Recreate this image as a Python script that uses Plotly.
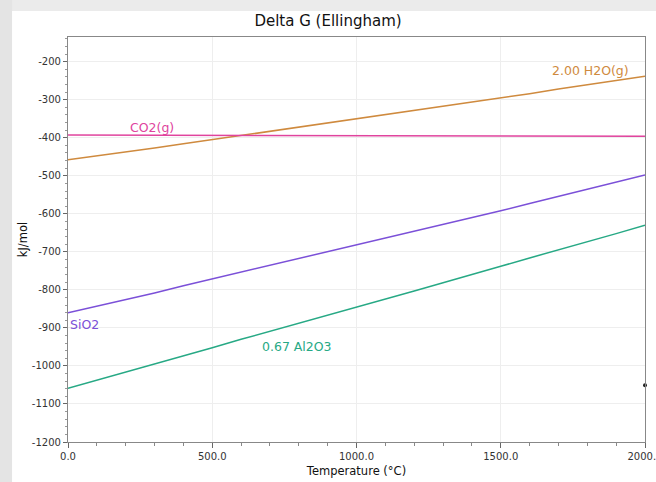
import plotly.graph_objects as go

# Temperature grid (°C)
temperature = [0, 100, 200, 300, 400, 500, 600, 700, 800, 900, 1000,
               1100, 1200, 1300, 1400, 1500, 1600, 1700, 1800, 1900, 2000]

# Standard Gibbs energy of formation per mol O2 (kJ/mol)
dg_h2o = [-458, -448, -437, -427, -416, -405, -394.5, -384, -373, -362, -351,
          -340, -329, -317, -306, -295, -284, -272, -261, -250, -238]
dg_co2 = [-393, -393.2, -393.4, -393.6, -393.8, -394, -394.2, -394.4, -394.6, -394.8, -395,
          -395.1, -395.2, -395.3, -395.4, -395.5, -395.6, -395.7, -395.8, -395.9, -396]
dg_sio2 = [-860, -843, -826, -808, -789, -771, -753, -735, -717, -700, -682,
           -664, -646, -629, -611, -592, -573, -554, -535, -517, -498]
dg_al2o3 = [-1059, -1038, -1017, -995, -973, -952, -930, -909, -888, -867, -845,
            -824, -803, -781, -760, -738, -716, -695, -673, -652, -630]

# Cursor point on the right edge
cursor_t = [2000]
cursor_g = [-1051]

# Axis ticks
x_ticks = [0, 500, 1000, 1500, 2000]
x_tick_labels = ["0.0", "500.0", "1000.0", "1500.0", "2000.0"]
y_ticks = [-1200, -1100, -1000, -900, -800, -700, -600, -500, -400, -300, -200]
y_tick_labels = ["-1200", "-1100", "-1000", "-900", "-800", "-700",
                 "-600", "-500", "-400", "-300", "-200"]

series = [
    ("2.00 H2O(g)", dg_h2o, "#cf8a3e", 1810, -222, "center"),
    ("CO2(g)", dg_co2, "#e0449e", 291, -372, "center"),
    ("SiO2", dg_sio2, "#7b50d8", 0, -891, "left"),
    ("0.67 Al2O3", dg_al2o3, "#27a985", 793, -948, "center"),
]

fig = go.Figure()
for name, vals, color, lx, ly, anchor in series:
    fig.add_trace(go.Scatter(x=temperature, y=vals, mode="lines", name=name,
                             line=dict(color=color, width=1.5), showlegend=False))
    fig.add_annotation(x=lx, y=ly, text=name, showarrow=False, xanchor=anchor,
                       font=dict(family="DejaVu Sans", size=12.5, color=color))

fig.add_trace(go.Scatter(x=cursor_t, y=cursor_g, mode="markers",
                         marker=dict(color="#222222", size=4), cliponaxis=False,
                         showlegend=False))

# Window frame strips (top and left)
fig.add_shape(type="rect", xref="paper", yref="paper", layer="below",
              x0=-0.2, x1=1.1, y0=1.064, y1=1.2, fillcolor="#ebebeb", line_width=0)
fig.add_shape(type="rect", xref="paper", yref="paper", layer="below",
              x0=-0.2, x1=-56 / 577.5, y0=-0.2, y1=1.2, fillcolor="#e4e4e4", line_width=0)

fig.update_layout(
    width=656, height=482,
    margin=dict(l=68, r=10.5, t=37, b=40),
    paper_bgcolor="white", plot_bgcolor="white",
    title=dict(text="Delta G (Ellingham)", x=0.5, xanchor="center", y=0.957, yanchor="middle",
               font=dict(family="DejaVu Sans", size=15, color="#111111")),
    font=dict(family="DejaVu Sans", color="#222222"),
)

fig.update_xaxes(
    range=[0, 2000], tickvals=x_ticks, ticktext=x_tick_labels,
    ticklabeloverflow="allow", automargin=False,
    showgrid=True, gridcolor="#eeeeee", gridwidth=1, zeroline=False,
    showline=True, linecolor="#888888", linewidth=1.2, mirror=True,
    ticks="outside", ticklen=5, tickcolor="#666666",
    minor=dict(dtick=100, ticks="outside", ticklen=3, tickcolor="#888888", showgrid=False),
    tickfont=dict(family="DejaVu Sans", size=10, color="#333333"),
    title=dict(text="Temperature (°C)", standoff=5,
               font=dict(family="DejaVu Sans", size=11.5, color="#111111")),
)
fig.update_yaxes(
    range=[-1200, -135], tickvals=y_ticks, ticktext=y_tick_labels, automargin=False,
    showgrid=True, gridcolor="#eeeeee", gridwidth=1, zeroline=False,
    showline=True, linecolor="#888888", linewidth=1.2, mirror=True,
    ticks="outside", ticklen=4, tickcolor="#666666",
    minor=dict(dtick=20, ticks="outside", ticklen=2, tickcolor="#999999", showgrid=False),
    tickfont=dict(family="DejaVu Sans", size=10, color="#333333"),
    title=dict(text="kJ/mol", standoff=1,
               font=dict(family="DejaVu Sans", size=11.5, color="#111111")),
)

fig.write_html("out.html")
